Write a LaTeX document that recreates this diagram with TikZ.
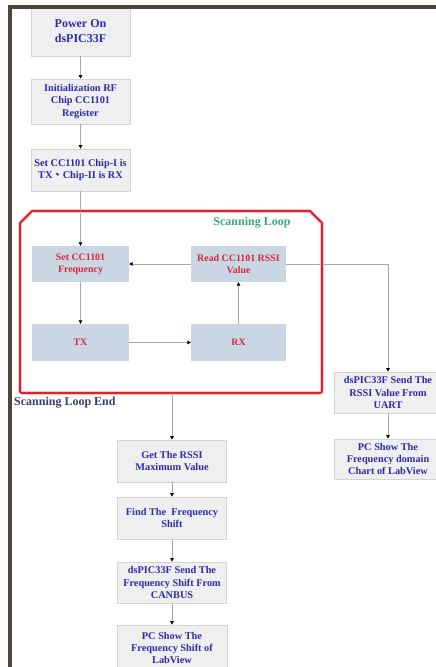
\documentclass[tikz,border=0pt]{standalone}
\usepackage{fontspec}
\setmainfont{Liberation Serif}
\newfontfamily\cjk{Noto Sans CJK TC}
\usetikzlibrary{arrows.meta}
\definecolor{framecol}{HTML}{4F4633}
\definecolor{boxfill}{HTML}{EFEFEF}
\definecolor{boxedge}{HTML}{D4D4D4}
\definecolor{loopfill}{HTML}{C9D6E3}
\definecolor{txtblue}{HTML}{2C2CA8}
\definecolor{txtred}{HTML}{D8283A}
\definecolor{txtgreen}{HTML}{3BAA78}
\definecolor{txtslate}{HTML}{333F70}
\definecolor{loopred}{HTML}{E0202A}
\definecolor{linegray}{HTML}{A8A8A8}
\begin{document}
\begin{tikzpicture}[x=1pt,y=-1pt,
  gbox/.style={draw=boxedge, fill=boxfill, line width=0.8pt, text=txtblue,
    font=\fontsize{10.3}{12.4}\selectfont\bfseries, align=center, inner sep=0pt,
    minimum width=99pt},
  lbox/.style={fill=loopfill, draw=none, text=txtred,
    font=\fontsize{9.9}{12.3}\selectfont\bfseries, align=center, inner sep=0pt,
    minimum width=97pt, minimum height=36pt},
  conn/.style={draw=linegray, line width=0.7pt,
    -{Triangle[length=3.5pt,width=3.6pt,color=black]}}
]
\useasboundingbox (0,0) rectangle (436,667);

% top column
\node[gbox, minimum height=50pt, font=\fontsize{12}{15}\selectfont\bfseries] (p1) at (80.5,31) {Power On\\dsPIC33F};
\node[gbox, minimum height=45pt] (p2) at (80.5,101.5) {Initialization RF\\Chip CC1101\\Register};
\node[gbox, minimum height=42pt] (p3) at (80.5,170) {Set CC1101 Chip-I is\\TX{\cjk 、}Chip-II is RX};

% loop boxes
\node[lbox] (set) at (80.5,264) {Set CC1101\\Frequency};
\node[lbox, minimum width=95pt] (read) at (238.5,264) {Read CC1101 RSSI\\Value};
\node[lbox, minimum height=37pt] (tx) at (80.5,342.5) {TX};
\node[lbox, minimum width=95pt, minimum height=37pt] (rx) at (238.5,342.5) {RX};

% right column
\node[gbox, minimum width=108pt, minimum height=41pt] (uart) at (388,392.5) {dsPIC33F Send The\\RSSI Value From\\UART};
\node[gbox, minimum width=108pt, minimum height=40pt] (chart) at (388,459) {PC Show The\\Frequency domain\\Chart of LabView};

% bottom column
\node[gbox, minimum width=109pt, minimum height=42pt] (get) at (172,461) {Get The RSSI\\Maximum Value};
\node[gbox, minimum width=109pt, minimum height=42pt] (find) at (172,518) {Find The\ \ Frequency\\Shift};
\node[gbox, minimum width=109pt, minimum height=41pt] (can) at (172,582.5) {dsPIC33F Send The\\Frequency Shift From\\CANBUS};
\node[gbox, minimum width=110pt, minimum height=46pt] (pcs) at (172,648) {PC Show The\\Frequency Shift of\\LabView};

% labels
\node[text=txtgreen, font=\fontsize{12}{14}\selectfont\bfseries, inner sep=0pt] (looplbl) at (252,223) {Scanning Loop};
\node[text=txtslate, font=\fontsize{12}{14}\selectfont\bfseries, inner sep=0pt, anchor=west] (endlbl) at (14,403) {Scanning Loop End};

\coordinate (lb) at (172,393);

% connectors
\draw[conn] (p1) -- (p2);
\draw[conn] (p2) -- (p3);
\draw[conn] (p3) -- (set);
\draw[conn] (set) -- (tx);
\draw[conn] (tx) -- (rx);
\draw[conn] (rx) -- (read);
\draw[conn] (read) -- (set);
\draw[conn] (read.east) -| (uart.north);
\draw[conn] (uart) -- (chart);
\draw[conn] (lb) -- (get);
\draw[conn] (get) -- (find);
\draw[conn] (find) -- (can);
\draw[conn] (can) -- (pcs);

% scanning loop outline
\draw[loopred!25, line width=3.6pt, line join=round]
  (20,223) -- (32,211) -- (310,211) -- (322,223) -- (322,391) [rounded corners=2pt] -- (322,393) -- (20,393) [sharp corners] -- (20,391) -- cycle;
\draw[loopred, line width=1.9pt, line join=round]
  (20,223) -- (32,211) -- (310,211) -- (322,223) -- (322,391) [rounded corners=2pt] -- (322,393) -- (20,393) [sharp corners] -- (20,391) -- cycle;

% frame
\fill[framecol] (8,5) rectangle (436,9);
\fill[framecol] (8,5) rectangle (12,667);
\end{tikzpicture}
\end{document}
